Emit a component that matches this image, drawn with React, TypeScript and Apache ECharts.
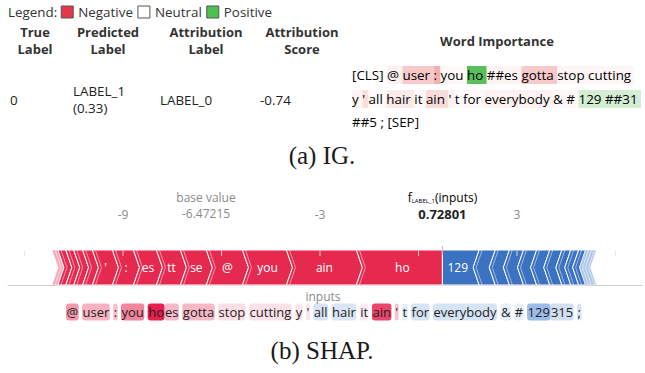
import React, { useEffect, useRef } from "react";
import * as echarts from "echarts";

// ---------------- IG (Captum) panel ----------------
const legendLabels = ["Negative", "Neutral", "Positive"];
const igHeaders = ["True\nLabel", "Predicted\nLabel", "Attribution\nLabel", "Attribution\nScore", "Word Importance"];
const igTrueLabel = "0";
const igPredLabel = ["LABEL_1", "(0.33)"];
const igAttrLabel = "LABEL_0";
const igAttrScore = "-0.74";
const igTokens = ["[CLS]", "@", "user", ":", "you", "ho", "##es", "gotta", "stop", "cutting",
  "y", "'", "all", "hair", "it", "ain", "'", "t", "for", "everybody", "&", "#", "129", "##31",
  "##5", ";", "[SEP]"];
const igAttributions = [0, -0.08, -0.3, -0.45, -0.04, 0.9, -0.06, -0.3, -0.05, -0.05,
  -0.06, -0.18, -0.03, -0.12, -0.04, -0.2, -0.07, -0.03, -0.04, -0.08, -0.05, -0.04, 0.24, 0.24,
  0, 0, 0];
const igLineStarts = [0, 10, 24];

// ---------------- SHAP panel ----------------
const shapBaseValue = -6.47215;
const shapOutputValue = 0.72801;
const shapOutputName = "LABEL_1";
const shapTickValues = [-12, -9, -6, -3, 0, 3, 6];
const shapTickLabels = [-9, -3, 3];
const shapTokens = ["", "@ ", "user ", ": ", "you ", "ho", "es ", "gotta ", "stop ", "cutting ",
  "y ", "' ", "all ", "hair ", "it ", "ain ", "' ", "t ", "for ", "everybody ", "& ", "# ",
  "129", "315 ", "; ", ""];
const shapValues = [-0.15, 1.1, 0.79, 0.64, 1.34, 2.62, 0.7, 0.73, 0.3, 0.27,
  0.24, 0.24, -0.4, -0.37, 0.18, 2.13, 0.61, -0.27, -0.4, -0.43, -0.24, -0.21,
  -1.12, -0.49, -0.43, -0.18];
const captions = ["(a) IG.", "(b) SHAP."];

const SANS = "'Open Sans', sans-serif";
const SERIF = "'Liberation Serif', serif";
const RED = "#e6294f";
const BLUE = "#3b72c2";
const BODY = 13.4;

function captumColor(a: number) {
  if (a >= 0) return `hsl(120, 45%, ${100 - 50 * a}%)`;
  return `hsl(0, 75%, ${100 - 40 * Math.abs(a)}%)`;
}

function centerCrop(label: string, width: number) {
  if (width < 18) return "";
  const n = Math.max(1, Math.floor((width - 5) / 7));
  if (label.length <= n) return label;
  const s = Math.ceil((label.length - n) / 2);
  return label.slice(s, s + n);
}

let mctx: CanvasRenderingContext2D | null = null;
function measure(text: string, font: string) {
  if (!mctx) mctx = document.createElement("canvas").getContext("2d");
  mctx!.font = font;
  return mctx!.measureText(text).width;
}

export default function App() {
  const ref = useRef<HTMLDivElement>(null);
  useEffect(() => {
    if (!ref.current) return;
    const chart = echarts.init(ref.current, undefined, { renderer: "svg" });

    // ---- IG word importance lines ----
    const igLineY = [75, 99, 122];
    const igLineEls = igLineStarts.map((start, li) => {
      const end = li + 1 < igLineStarts.length ? igLineStarts[li + 1] : igTokens.length;
      const rich: any = {};
      let text = "";
      for (let i = start; i < end; i++) {
        rich["w" + i] = {
          backgroundColor: captumColor(igAttributions[i]),
          fontSize: BODY, fontFamily: SANS, color: "#1a1a1a", height: 18, lineHeight: 18,
        };
        text += `{w${i}|${igTokens[i]} }`;
      }
      return {
        type: "text", x: 352, y: igLineY[li],
        style: { text, rich, fontSize: BODY, fontFamily: SANS, verticalAlign: "middle", textVerticalAlign: "middle" },
      };
    });

    // ---- SHAP text plot line ----
    const maxAbs = Math.max(...shapValues.map(Math.abs));
    const srich: any = {};
    let stext = "";
    shapTokens.forEach((t, i) => {
      const tr = t.trim();
      if (!tr) return;
      const a = Math.pow(Math.abs(shapValues[i]) / maxAbs, 0.9);
      const bg = shapValues[i] >= 0 ? `rgba(232, 30, 76, ${a})` : `rgba(40, 110, 205, ${a})`;
      srich["s" + i] = {
        backgroundColor: bg, borderRadius: 3, padding: [2, 0.5, 2, 0.5],
        fontSize: 13, fontFamily: SANS, color: "#222",
      };
      stext += `{s${i}|${tr}}` + (t.endsWith(" ") ? " " : "");
    });

    // ---- force plot segments ----
    const items = shapTokens.map((t, i) => ({ t: t.trim(), v: shapValues[i] }));
    const reds = items.filter((d) => d.v > 0).sort((a, b) => a.v - b.v);
    const blues = items.filter((d) => d.v < 0).sort((a, b) => Math.abs(b.v) - Math.abs(a.v));
    const sumRed = reds.reduce((s, d) => s + d.v, 0);
    const segs: any[] = [];
    const segLabels: string[] = [];
    let x = shapOutputValue - sumRed;
    reds.forEach((d, k) => {
      segs.push({ value: [x, x + d.v, 1, 0, k === reds.length - 1 ? 1 : 0, d.v < 0.2 ? 1 : 0] });
      segLabels.push(d.t);
      x += d.v;
    });
    x = shapOutputValue;
    blues.forEach((d, k) => {
      const w = Math.abs(d.v);
      segs.push({ value: [x, x + w, -1, k === 0 ? 1 : 0, 0, w < 0.2 ? 1 : 0] });
      segLabels.push(d.t);
      x += w;
    });

    const pxPerUnit = 32.83;
    const zeroPx = 418.5;
    const xMin = (8 - zeroPx) / pxPerUnit;
    const xMax = (642 - zeroPx) / pxPerUnit;

    const D = 6;
    const renderSeg = (params: any, api: any) => {
      const s = api.coord([api.value(0), 1]);
      const e = api.coord([api.value(1), 1]);
      const b = api.coord([api.value(0), 0]);
      const x0 = s[0], x1 = e[0];
      const top = s[1] - 2, bot = b[1], mid = (top + bot) / 2;
      const dir = api.value(2);
      const flatL = api.value(3), flatR = api.value(4), faded = api.value(5);
      const pts: number[][] = [[x0, top], [x1, top]];
      if (!flatR) pts.push([x1 + dir * D, mid]);
      pts.push([x1, bot], [x0, bot]);
      if (!flatL) pts.push([x0 + dir * D, mid]);
      const color = dir > 0 ? RED : BLUE;
      const children: any[] = [
        {
          type: "polygon", shape: { points: pts },
          style: { fill: color, stroke: "#ffffff", lineWidth: 1, opacity: faded ? 0.4 : 1 },
        },
      ];
      if (!flatL) {
        const ox = x0 + 3;
        children.push({
          type: "polyline",
          shape: { points: [[ox, top], [ox + dir * D, mid], [ox, bot]] },
          style: { stroke: "rgba(255,255,255,0.5)", lineWidth: 1, fill: null },
        });
      }
      const lbl = dir > 0 || x1 - x0 > 30 ? centerCrop(segLabels[params.dataIndex], x1 - x0) : "";
      if (lbl) {
        children.push({
          type: "text", x: (x0 + x1) / 2 + dir * D / 2, y: mid,
          style: {
            text: lbl, fill: "#ffffff", fontSize: 12, fontFamily: SANS,
            align: "center", verticalAlign: "middle", textAlign: "center", textVerticalAlign: "middle",
          },
        });
      }
      return { type: "group", children };
    };

    const renderTick = (params: any, api: any) => {
      const p = api.coord([api.value(0), 1]);
      return {
        type: "line", shape: { x1: p[0], y1: p[1] - 1, x2: p[0], y2: p[1] + 4 },
        style: { stroke: "rgba(225,225,225,0.9)", lineWidth: 1 },
      };
    };

    const center = { align: "center", verticalAlign: "middle", textAlign: "center", textVerticalAlign: "middle" };
    const renderAnno = (params: any, api: any) => {
      const p = api.coord([api.value(0), 1]);
      const xx = p[0], axisY = p[1];
      if (params.dataIndex === 0) {
        return {
          type: "group",
          children: [
            { type: "text", x: xx, y: axisY - 55, style: { text: "base value", fill: "#8a8a8a", fontSize: 12, fontFamily: SANS, ...center } },
            { type: "text", x: xx, y: axisY - 39, style: { text: shapBaseValue.toFixed(5), fill: "#8a8a8a", fontSize: 12, fontFamily: SANS, ...center } },
          ],
        };
      }
      return {
        type: "group",
        children: [
          {
            type: "text", x: xx, y: axisY - 55,
            style: {
              text: `{f|f}{s|${shapOutputName}}{n|(inputs)}`,
              rich: {
                f: { fontSize: 12, fontFamily: SANS, color: "#8a8a8a" },
                s: { fontSize: 6, fontFamily: SANS, color: "#8a8a8a", padding: [8, 0, 0, 0] },
                n: { fontSize: 12, fontFamily: SANS, color: "#8a8a8a" },
              },
              ...center,
            },
          },
          { type: "text", x: xx, y: axisY - 38, style: { text: shapOutputValue.toFixed(5), fill: "#222", fontSize: 13, fontWeight: "bold", fontFamily: SANS, ...center } },
          { type: "line", shape: { x1: xx, y1: axisY - 6, x2: xx, y2: axisY + 3 }, style: { stroke: "#f7a1bb", lineWidth: 1 } },
        ],
      };
    };

    const txt = (x: number, y: number, text: string, extra: any = {}) => ({
      type: "text", x, y,
      style: {
        text, fontSize: BODY, fontFamily: SANS, fill: "#222", verticalAlign: "middle", textVerticalAlign: "middle",
        ...extra,
      },
    });

    // legend laid out sequentially
    const legendFont = `${BODY}px ${SANS}`;
    const legendColors = ["#e5364c", "#ffffff", "#4cc04c"];
    const legendEls: any[] = [txt(8, 12, "Legend:", { fill: "#333" })];
    let lx = 8 + measure("Legend:", legendFont) + 4;
    legendLabels.forEach((l, i) => {
      legendEls.push({ type: "rect", shape: { x: lx, y: 6, width: 12, height: 12 }, style: { fill: legendColors[i], stroke: "#555", lineWidth: 1 } });
      lx += 17;
      legendEls.push(txt(lx, 12, l, { fill: "#333" }));
      lx += measure(l, legendFont) + 5;
    });

    const headerX = [35, 108, 206, 302, 497];

    const graphic: any[] = [
      ...legendEls,
      ...igHeaders.map((h, i) => txt(headerX[i], i === 4 ? 41 : 40.5, h, { fontSize: 13, fontWeight: "bold", align: "center", textAlign: "center", lineHeight: 17, fill: "#333" })),
      txt(10, 100, igTrueLabel),
      txt(73, 91, igPredLabel[0]),
      txt(73, 108, igPredLabel[1]),
      txt(160, 100, igAttrLabel),
      txt(260, 100, igAttrScore),
      ...igLineEls,
      txt(322, 155, captions[0], { fontSize: 25, fontFamily: SERIF, align: "center", textAlign: "center", fill: "#1a1a1a" }),
      txt(323, 296, "inputs", { fontSize: 12, fill: "#8a8a8a", align: "center", textAlign: "center" }),
      { type: "text", x: 66, y: 312, style: { text: stext, rich: srich, fontSize: 13, fontFamily: SANS, fill: "#222", verticalAlign: "middle", textVerticalAlign: "middle" } },
      txt(322, 350, captions[1], { fontSize: 25, fontFamily: SERIF, align: "center", textAlign: "center", fill: "#1a1a1a" }),
    ];

    const option: any = {
      animation: false,
      grid: { left: 8, right: 3, top: 252, height: 33, containLabel: false },
      xAxis: {
        type: "value", position: "top", min: xMin, max: xMax,
        axisLine: { show: true, lineStyle: { color: "#cccccc", width: 1 } },
        axisTick: { show: false },
        splitLine: { show: false },
        axisLabel: { show: true, customValues: shapTickLabels, color: "#8a8a8a", fontSize: 12, fontFamily: SANS, margin: 32 },
      },
      yAxis: { type: "value", min: 0, max: 1, show: false },
      series: [
        { type: "custom", renderItem: renderSeg, data: segs, z: 3, silent: true },
        { type: "custom", renderItem: renderTick, data: shapTickValues.map((v) => [v, 1]), z: 5, silent: true },
        { type: "custom", renderItem: renderAnno, data: [[shapBaseValue, 1], [shapOutputValue, 1]], z: 6, silent: true },
      ],
      graphic,
    };
    chart.setOption(option);
    return () => chart.dispose();
  }, []);
  return <div ref={ref} style={{ position: "fixed", left: 0, top: 0, width: 645, height: 373, background: "#fff" }} />;
}
